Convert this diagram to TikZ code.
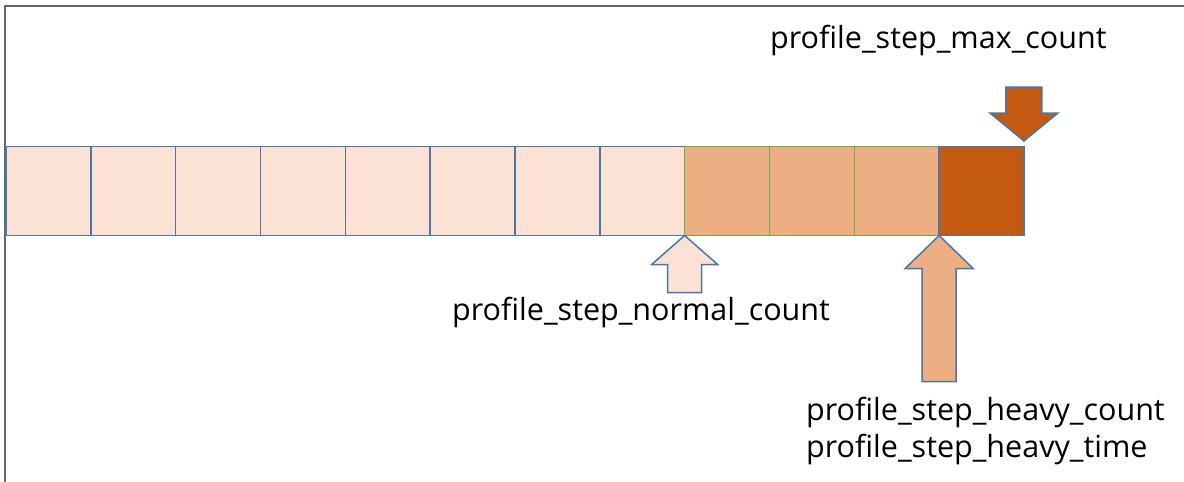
\documentclass[tikz,border=0pt]{standalone}
\usepackage{fontspec}
\setmainfont{Open Sans}
\definecolor{lightfill}{HTML}{FBE2D5}
\definecolor{midfill}{HTML}{EDAE83}
\definecolor{darkfill}{HTML}{C45A11}
\definecolor{blueline}{HTML}{4A76A8}
\definecolor{greenline}{HTML}{70AD47}
\definecolor{frameline}{HTML}{666666}
\begin{document}
\begin{tikzpicture}[x=1pt,y=-1pt,
  cell/.style={draw=blueline, line width=1.6pt, minimum width=84.83pt, minimum height=89pt,
    inner sep=0pt, outer sep=0pt, anchor=north west},
  lightcell/.style={cell, fill=lightfill},
  midcell/.style={cell, fill=midfill, draw=greenline},
  darkcell/.style={cell, fill=darkfill},
  blockarrow/.style={draw=blueline, line width=1.5pt, line join=miter},
  lbl/.style={font=\fontsize{30.5}{37}\selectfont, inner sep=0pt, anchor=base west, align=left}]
\useasboundingbox (0,0) rectangle (1184,482);
% frame
\draw[frameline, line width=1.2pt] (5,482) -- (5,6) -- (1184,6);
% cells
\foreach \i in {1,...,8} {
  \node[lightcell] (b\i) at ({6+(\i-1)*84.83},146.5) {};
}
\foreach \i in {9,10,11} {
  \node[midcell] (b\i) at ({6+(\i-1)*84.83},146.5) {};
}
\node[darkcell] (b12) at ({6+11*84.83},146.5) {};
% normal arrow (up) at b9.south west
\coordinate (tn) at (b9.south west);
\draw[blockarrow, fill=lightfill] (tn) -- ++(33,29) -- ++(-16,0) -- ++(0,28) -- ++(-34,0) -- ++(0,-28) -- ++(-16,0) -- cycle;
% heavy arrow (up) at b12.south west
\coordinate (th) at (b12.south west);
\draw[blockarrow, fill=midfill] (th) -- ++(34,33) -- ++(-17,0) -- ++(0,113) -- ++(-34,0) -- ++(0,-113) -- ++(-17,0) -- cycle;
% max arrow (down) above b12.north east
\coordinate (tm) at ([yshift=5.5pt]b12.north east);
\draw[blockarrow, fill=darkfill] (tm) -- ++(34,-28) -- ++(-16,0) -- ++(0,-26) -- ++(-36,0) -- ++(0,26) -- ++(-16,0) -- cycle;
% labels
\node[lbl] (lmax) at (770,48) {profile\_step\_max\_count};
\node[lbl] (lnormal) at (452,320) {profile\_step\_normal\_count};
\node[lbl, anchor=north west] (lheavy) at (806,397) {profile\_step\_heavy\_count\\profile\_step\_heavy\_time};
\end{tikzpicture}
\end{document}
